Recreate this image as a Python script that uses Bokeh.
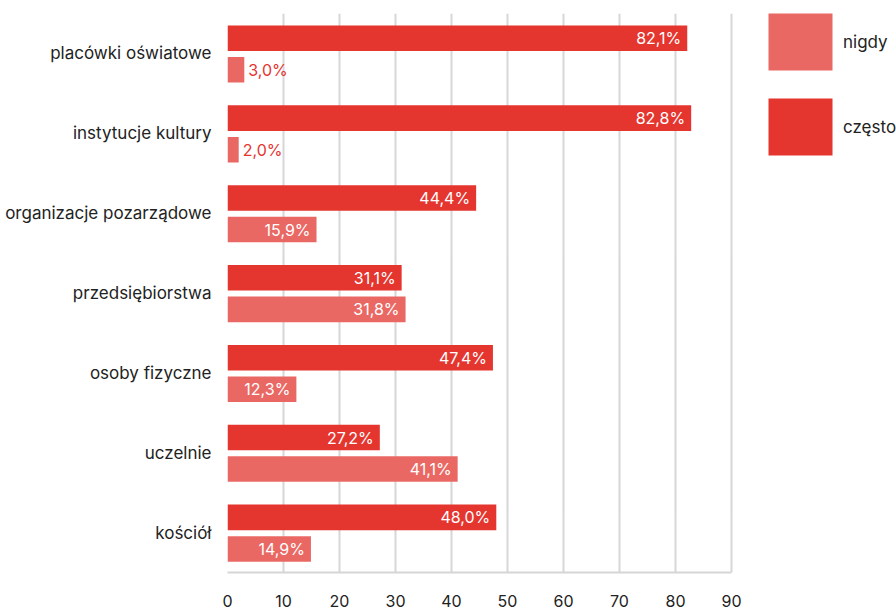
from bokeh.plotting import figure
from bokeh.models import Range1d, FixedTicker, Legend, LegendItem, ColumnDataSource
from bokeh.core.properties import value
from bokeh.embed import file_html
from bokeh.resources import INLINE

categories = ["placówki oświatowe", "instytucje kultury", "organizacje pozarządowe",
              "przedsiębiorstwa", "osoby fizyczne", "uczelnie", "kościół"]
czesto = [82.1, 82.8, 44.4, 31.1, 47.4, 27.2, 48.0]
nigdy = [3.0, 2.0, 15.9, 31.8, 12.3, 41.1, 14.9]
x_ticks = [0, 10, 20, 30, 40, 50, 60, 70, 80, 90]

C_CZESTO = "#e5352f"
C_NIGDY = "#ea6864"
FONT = "Inter"

W, H_FIG = 896, 609
LEFT, TOP, BOTTOM = 227, 13, 31
AXIS_PX = 504  # pixels spanned by 0..90
frame_w = W - LEFT
x_end = x_ticks[-1] * frame_w / AXIS_PX

p = figure(width=W, height=H_FIG, output_backend="svg", toolbar_location=None,
           x_range=Range1d(0, x_end), y_range=Range1d(len(categories), 0),
           min_border_left=LEFT, min_border_right=0, min_border_top=TOP, min_border_bottom=BOTTOM)
p.outline_line_color = None
p.background_fill_color = "white"
p.border_fill_color = "white"

n = len(categories)
pos = [i + 0.5 for i in range(n)]
y_cz = [y - 0.19 for y in pos]
y_ni = [y + 0.205 for y in pos]
H = 0.32

r_cz = p.hbar(y=y_cz, left=0, right=czesto, height=H, color=C_CZESTO, line_color=None)
r_ni = p.hbar(y=y_ni, left=0, right=nigdy, height=H, color=C_NIGDY, line_color=None)

def labels(vals, ys):
    ins = dict(x=[], y=[], t=[])
    out = dict(x=[], y=[], t=[])
    for v, y in zip(vals, ys):
        d = out if v < 5 else ins
        d["x"].append(v); d["y"].append(y); d["t"].append(f"{v:.1f}%".replace(".", ","))
    return ins, out

for vals, ys in ((czesto, y_cz), (nigdy, y_ni)):
    ins, out = labels(vals, ys)
    p.text(x="x", y="y", text="t", source=ColumnDataSource(ins), x_offset=-6,
           text_align="right", text_baseline="middle", text_color="white",
           text_font=value(FONT), text_font_size="16px")
    p.text(x="x", y="y", text="t", source=ColumnDataSource(out), x_offset=4,
           text_align="left", text_baseline="middle", text_color=C_CZESTO,
           text_font=value(FONT), text_font_size="16px")

# x axis
p.xaxis.ticker = FixedTicker(ticks=x_ticks)
p.xaxis.bounds = (x_ticks[0], x_ticks[-1])
p.xaxis.axis_line_color = "#d6d6d6"
p.xaxis.axis_line_width = 2
p.xaxis.major_tick_line_color = None
p.xaxis.minor_tick_line_color = None
p.xaxis.major_label_standoff = 16
p.xaxis.major_label_text_font = FONT
p.xaxis.major_label_text_font_size = "16px"
p.xaxis.major_label_text_color = "#222222"

# y axis with category names
p.yaxis.ticker = FixedTicker(ticks=pos)
p.yaxis.major_label_overrides = {y: c for y, c in zip(pos, categories)}
p.yaxis.axis_line_color = None
p.yaxis.major_tick_line_color = None
p.yaxis.minor_tick_line_color = None
p.yaxis.major_label_standoff = 10
p.yaxis.major_label_text_font = FONT
p.yaxis.major_label_text_font_size = "17px"
p.yaxis.major_label_text_color = "#222222"

p.xgrid.ticker = FixedTicker(ticks=x_ticks)
p.xgrid.grid_line_color = "#d6d6d6"
p.xgrid.grid_line_width = 2
p.ygrid.grid_line_color = None

frame_h = H_FIG - TOP - BOTTOM
GW, GH, SP = 80, 71, 14
leg_h = GH * 2 + SP
legend = Legend(items=[LegendItem(label="nigdy", renderers=[r_ni]),
                       LegendItem(label="często", renderers=[r_cz])],
                location=(533, frame_h - leg_h + 1), orientation="vertical",
                glyph_width=GW, glyph_height=GH, label_height=GH,
                spacing=SP, label_standoff=3, padding=0, margin=0,
                border_line_color=None, background_fill_alpha=0,
                label_text_font=FONT, label_text_font_size="17px",
                label_text_color="#222222")
p.add_layout(legend, "center")

open("out.html", "w").write(file_html(p, INLINE))
